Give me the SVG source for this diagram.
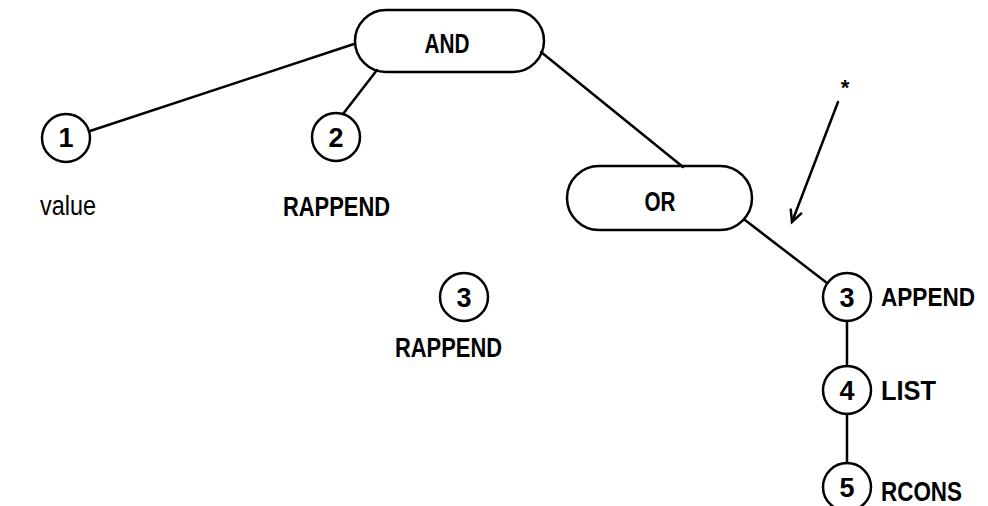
<svg xmlns="http://www.w3.org/2000/svg" width="988" height="506" viewBox="0 0 988 506">
<style>
.shape{fill:none;stroke:#000;stroke-width:2.5}
.edge{fill:none;stroke:#000;stroke-width:2.5;stroke-linecap:round}
.t{font-family:"Liberation Sans","DejaVu Sans",sans-serif;font-size:27px;fill:#000;font-weight:bold}
.d{font-family:"Liberation Sans","DejaVu Sans",sans-serif;font-size:27px;fill:#000;text-anchor:middle;font-weight:bold}
</style>
<defs>
<marker id="open" markerWidth="20" markerHeight="20" refX="14" refY="7" orient="auto" markerUnits="userSpaceOnUse">
<path d="M2,1 L14,7 L2,13" fill="none" stroke="#000" stroke-width="2.5"/>
</marker>
</defs>
<rect width="988" height="506" fill="#fff"/>
<g id="connectors">
<line class="edge" x1="90" y1="131" x2="354" y2="44"/>
<line class="edge" x1="343" y1="114" x2="377" y2="70"/>
<line class="edge" x1="541" y1="52" x2="683" y2="167"/>
<line class="edge" x1="745" y1="220" x2="827" y2="283"/>
<line class="edge" x1="847" y1="321" x2="847" y2="366"/>
<line class="edge" x1="847" y1="414" x2="847" y2="463"/>
<line class="edge" x1="838" y1="102" x2="792" y2="222" marker-end="url(#open)"/>
</g>
<g id="and">
<rect class="shape" x="355" y="10" width="189" height="62" rx="31"/>
<text class="d" x="447" y="53" textLength="45" lengthAdjust="spacingAndGlyphs">AND</text>
</g>
<g id="or">
<rect class="shape" x="567" y="166" width="185" height="64" rx="32"/>
<text class="d" x="660" y="211" textLength="31" lengthAdjust="spacingAndGlyphs">OR</text>
</g>
<g id="n1">
<circle class="shape" cx="66" cy="138" r="24"/>
<text class="d" x="66" y="147">1</text>
<text class="t" x="40" y="215" textLength="56" lengthAdjust="spacingAndGlyphs" style="font-weight:normal">value</text>
</g>
<g id="n2">
<circle class="shape" cx="336" cy="137" r="24"/>
<text class="d" x="336" y="147">2</text>
<text class="t" x="283" y="216" textLength="107" lengthAdjust="spacingAndGlyphs">RAPPEND</text>
</g>
<g id="n3a">
<circle class="shape" cx="464" cy="297" r="24"/>
<text class="d" x="464" y="307">3</text>
<text class="t" x="395" y="357" textLength="107" lengthAdjust="spacingAndGlyphs">RAPPEND</text>
</g>
<g id="n3">
<circle class="shape" cx="847" cy="297" r="24"/>
<text class="d" x="847" y="307">3</text>
<text class="t" x="881" y="306" textLength="94" lengthAdjust="spacingAndGlyphs" style="font-size:25px">APPEND</text>
</g>
<g id="n4">
<circle class="shape" cx="847" cy="390" r="24"/>
<text class="d" x="847" y="400">4</text>
<text class="t" x="881" y="400" textLength="55" lengthAdjust="spacingAndGlyphs">LIST</text>
</g>
<g id="n5">
<circle class="shape" cx="847" cy="487" r="24"/>
<text class="d" x="847" y="497">5</text>
<text class="t" x="881" y="501" textLength="81" lengthAdjust="spacingAndGlyphs">RCONS</text>
</g>
<g id="note">
<text class="d" x="845" y="95" style="font-size:22px">*</text>
</g>
</svg>
